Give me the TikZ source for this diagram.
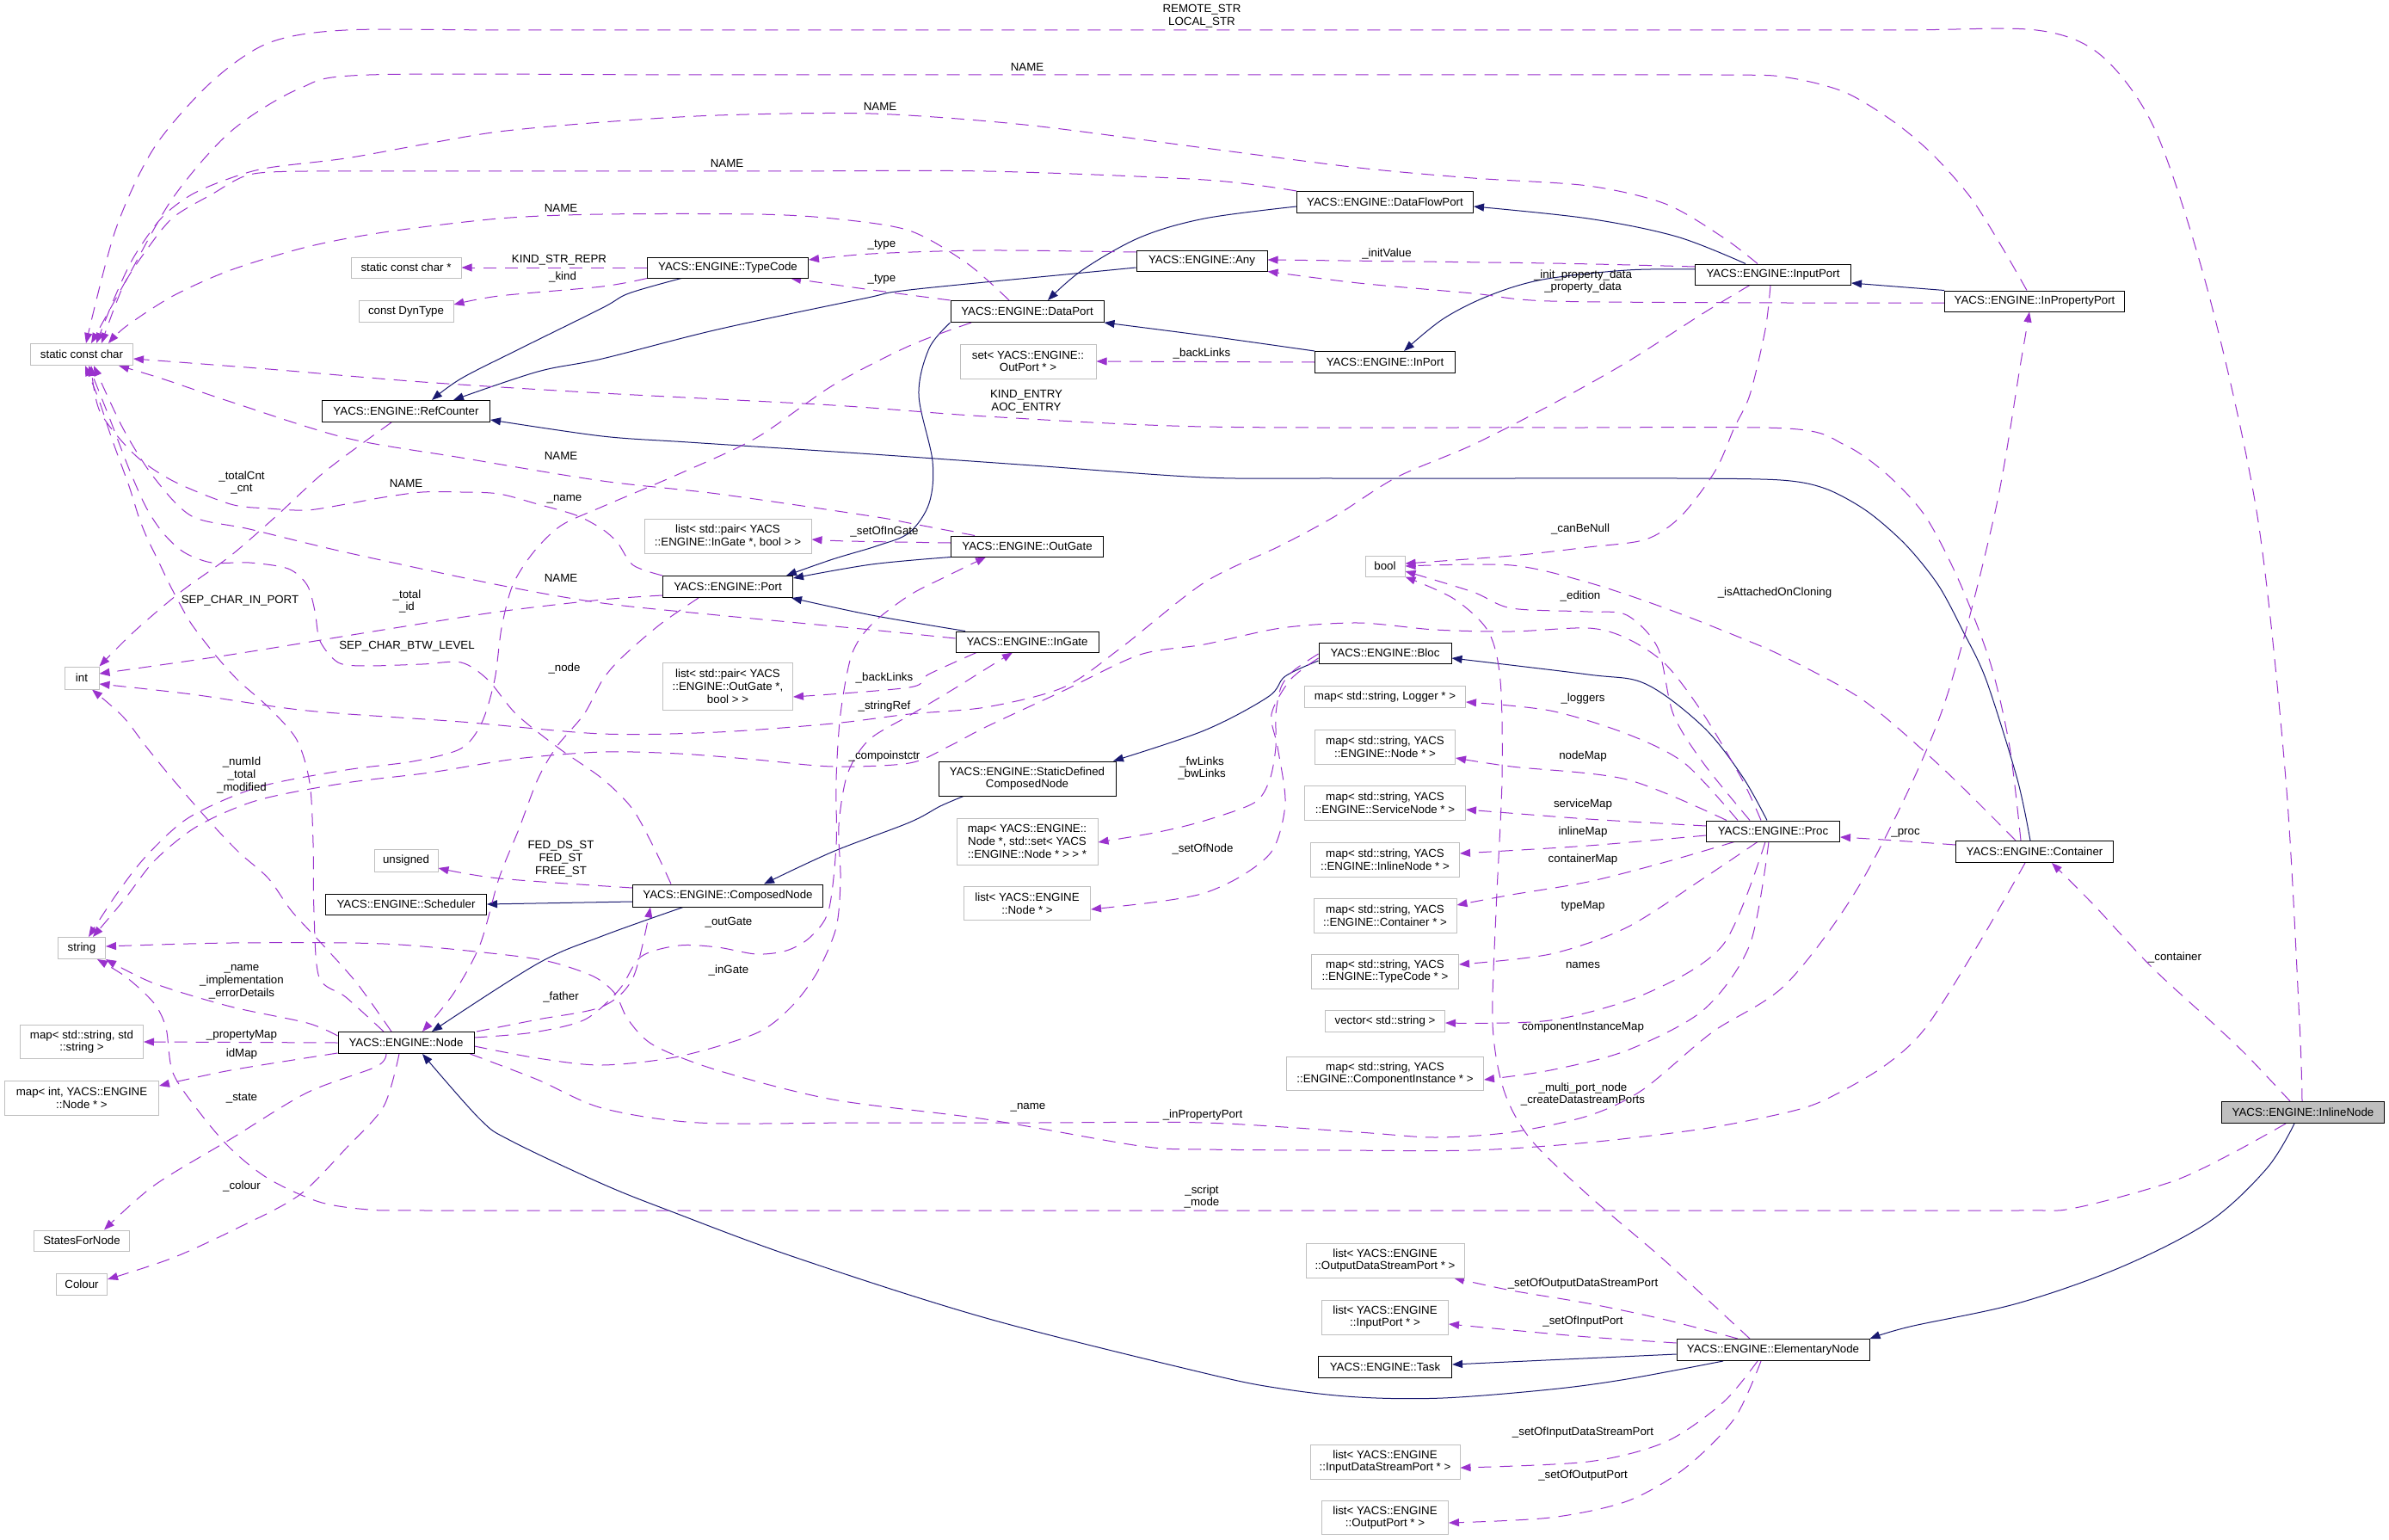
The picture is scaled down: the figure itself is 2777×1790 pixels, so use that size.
\documentclass[tikz,border=0pt]{standalone}
\usepackage{fontspec}
\setmainfont{Liberation Sans}
\usetikzlibrary{arrows.meta,backgrounds}
\definecolor{midblue}{RGB}{25,25,112}
\definecolor{orchid}{RGB}{154,50,205}
\definecolor{boxgray}{RGB}{191,191,191}
\newcommand\dgfont{\fontsize{13.3}{14.8}\selectfont}
\begin{document}
\begin{tikzpicture}[x=1pt,y=-1pt,
  cls/.style={draw=black, line width=1pt, fill=white, inner sep=0pt, align=center, font=\dgfont},
  ext/.style={draw=boxgray, line width=1pt, fill=white, inner sep=0pt, align=center, font=\dgfont},
  sz/.style 2 args={minimum width=#1pt, minimum height=#2pt},
  lab/.style={inner sep=0pt, align=center, font=\dgfont},
  inh/.style={draw=midblue, line width=1pt, -{Triangle[length=12pt,width=9pt]}},
  dep/.style={draw=orchid, line width=1pt, dash pattern=on 15pt off 10pt, -{Triangle[length=12pt,width=9pt]}}]
\useasboundingbox (0,0) rectangle (2777,1790);

% ---------------- nodes ----------------
\node[ext, sz={119}{25}] (scc) at (95,412) {static const char};
\node[ext, sz={128}{24}] (sccp) at (472,311) {static const char *};
\node[ext, sz={110}{25}] (dyn) at (472,362) {const DynType};
\node[cls, sz={195}{25}] (refc) at (472,478) {YACS::ENGINE::RefCounter};
\node[cls, sz={187}{24}] (typecode) at (846,311) {YACS::ENGINE::TypeCode};
\node[cls, sz={178}{25}] (dataport) at (1194,362) {YACS::ENGINE::DataPort};
\node[ext, sz={158}{40}] (setout) at (1195,420) {set< YACS::ENGINE::\\OutPort * >};
\node[cls, sz={152}{24}] (any) at (1397,303) {YACS::ENGINE::Any};
\node[cls, sz={205}{25}] (dfport) at (1610,235) {YACS::ENGINE::DataFlowPort};
\node[cls, sz={163}{25}] (inport) at (1610,421) {YACS::ENGINE::InPort};
\node[cls, sz={181}{24}] (inputport) at (2061,319) {YACS::ENGINE::InputPort};
\node[cls, sz={209}{24}] (inprop) at (2365,350) {YACS::ENGINE::InPropertyPort};
\node[ext, sz={40}{26}] (int) at (95,788) {int};
\node[ext, sz={74}{26}] (unsigned) at (472,1000) {unsigned};
\node[cls, sz={187}{24}] (sched) at (472,1051) {YACS::ENGINE::Scheduler};
\node[ext, sz={55}{25}] (string) at (95,1102) {string};
\node[ext, sz={194}{40}] (lpin) at (846,623) {list< std::pair< YACS\\::ENGINE::InGate *, bool > >};
\node[cls, sz={177}{24}] (outgate) at (1194,635) {YACS::ENGINE::OutGate};
\node[cls, sz={151}{25}] (port) at (846,682) {YACS::ENGINE::Port};
\node[cls, sz={166}{24}] (ingate) at (1194,746) {YACS::ENGINE::InGate};
\node[ext, sz={151}{55}] (lpout) at (846,798) {list< std::pair< YACS\\::ENGINE::OutGate *,\\bool > >};
\node[cls, sz={206}{40}] (sdcn) at (1194,905) {YACS::ENGINE::StaticDefined\\ComposedNode};
\node[ext, sz={164}{54}] (mapnodeset) at (1194,978) {map< YACS::ENGINE::\\Node *, std::set< YACS\\::ENGINE::Node * > > *};
\node[ext, sz={147}{39}] (listnode) at (1194,1050) {list< YACS::ENGINE\\::Node * >};
\node[cls, sz={221}{26}] (composed) at (846,1041) {YACS::ENGINE::ComposedNode};
\node[ext, sz={46}{24}] (bool) at (1610,658) {bool};
\node[cls, sz={154}{24}] (bloc) at (1610,759) {YACS::ENGINE::Bloc};
\node[ext, sz={187}{25}] (maplogger) at (1610,810) {map< std::string, Logger * >};
\node[ext, sz={163}{40}] (mapnode) at (1610,868) {map< std::string, YACS\\::ENGINE::Node * >};
\node[ext, sz={187}{40}] (mapservice) at (1610,933) {map< std::string, YACS\\::ENGINE::ServiceNode * >};
\node[ext, sz={173}{40}] (mapinline) at (1610,999) {map< std::string, YACS\\::ENGINE::InlineNode * >};
\node[ext, sz={166}{40}] (mapcontainer) at (1610,1064) {map< std::string, YACS\\::ENGINE::Container * >};
\node[ext, sz={171}{40}] (maptypecode) at (1610,1129) {map< std::string, YACS\\::ENGINE::TypeCode * >};
\node[ext, sz={139}{25}] (vecstring) at (1610,1187) {vector< std::string >};
\node[cls, sz={155}{24}] (proc) at (2061,966) {YACS::ENGINE::Proc};
\node[cls, sz={183}{25}] (container) at (2365,990) {YACS::ENGINE::Container};
\node[ext, sz={143}{39}] (mapss) at (95,1211) {map< std::string, std\\::string >};
\node[ext, sz={179}{40}] (mapint) at (95,1276) {map< int, YACS::ENGINE\\::Node * >};
\node[cls, sz={158}{25}] (node) at (472,1212) {YACS::ENGINE::Node};
\node[ext, sz={111}{24}] (states) at (95,1442) {StatesForNode};
\node[ext, sz={59}{25}] (colour) at (95,1493) {Colour};
\node[ext, sz={229}{39}] (mapcomp) at (1610,1248) {map< std::string, YACS\\::ENGINE::ComponentInstance * >};
\node[ext, sz={184}{40}] (lodsp) at (1610,1465) {list< YACS::ENGINE\\::OutputDataStreamPort * >};
\node[ext, sz={147}{40}] (linput) at (1610,1531) {list< YACS::ENGINE\\::InputPort * >};
\node[cls, sz={155}{25}] (task) at (1610,1589) {YACS::ENGINE::Task};
\node[cls, sz={224}{25}] (elem) at (2061,1569) {YACS::ENGINE::ElementaryNode};
\node[ext, sz={174}{40}] (lidsp) at (1610,1699) {list< YACS::ENGINE\\::InputDataStreamPort * >};
\node[ext, sz={147}{39}] (loutput) at (1610,1764) {list< YACS::ENGINE\\::OutputPort * >};
\node[cls, fill=boxgray, sz={189}{25}] (inline) at (2677,1293) {YACS::ENGINE::InlineNode};

% ---------------- edges ----------------
\begin{scope}[on background layer]
\fill[white] (0,0) rectangle (2777,1790);
% inheritance
\draw[inh] plot[smooth,tension=.55] coordinates {([xshift=-54pt]typecode.south) (731,341) (700,358) (603,406) (536,440) ([xshift=30pt]refc.north)};
\draw[inh] plot[smooth,tension=.55] coordinates {([yshift=-8pt]any.west) (1249,318) (1057,337) (1004,347) (834,383) (700,417) (625,432) ([xshift=55pt]refc.north)};
\draw[inh] plot[smooth,tension=.5] coordinates {([xshift=-5pt]container.north) (2345,906) (2309,791) (2282,734) (2253,680) (2215,633) (2170,594) (2122,568) (2070,558) (1950,556) (1750,556) (1550,556) (1400,555) (1200,541) (1000,527) (800,514) (700,507) ([yshift=-10pt]refc.east)};
\draw[inh] plot[smooth,tension=.55] coordinates {(dataport.south west) (1080,405) (1068,459) (1084,536) (1080,585) (1057,619) (1021,634) (968,650) ([xshift=-8pt]port.north east)};
\draw[inh] plot[smooth,tension=.55] coordinates {(outgate.south west) (1013,656) ([yshift=-3pt]port.north east)};
\draw[inh] plot[smooth,tension=.55] coordinates {([xshift=-72pt]ingate.north) (1013,715) ([xshift=-2pt]port.south east)};
\draw[inh] plot[smooth,tension=.55] coordinates {([yshift=-5pt]dfport.west) (1400,254) (1325,276) (1258,314) ([xshift=24pt]dataport.north)};
\draw[inh] plot[smooth,tension=.55] coordinates {(inport.north west) (1400,390) (dataport.south east)};
\draw[inh] plot[smooth,tension=.55] coordinates {([xshift=-32pt]inputport.north) (1949,275) (1846,254) ([yshift=-5pt]dfport.east)};
\draw[inh] plot[smooth,tension=.55] coordinates {([yshift=6pt]inputport.west) (1891,314) (1793,325) (1730,344) (1677,371) ([xshift=22pt]inport.north)};
\draw[inh] (inprop.north west) -- ([yshift=-10pt]inputport.east);
\draw[inh] plot[smooth,tension=.55] coordinates {([xshift=-74pt]sdcn.south) (1093,937) (1057,956) (968,990) ([xshift=42pt]composed.north)};
\draw[inh] plot[smooth,tension=.55] coordinates {([yshift=-9pt]bloc.west) (1494,786) (1474,810) (1400,849) ([xshift=100pt]sdcn.north)};
\draw[inh] plot[smooth,tension=.55] coordinates {([xshift=-7pt]proc.north) (2025,902) (1980,845) (1913,795) (1846,784) ([yshift=-6pt]bloc.east)};
\draw[inh] plot[smooth,tension=.55] coordinates {([xshift=-52pt]composed.south) (700,1088) (625,1120) ([xshift=30pt]node.north)};
\draw[inh] ([yshift=-7pt]composed.west) -- (sched.east);
\draw[inh] ([yshift=-5pt]elem.west) -- ([yshift=3pt]task.east);
\draw[inh] plot[smooth,tension=.55] coordinates {([xshift=-58pt]elem.south) (1891,1603) (1802,1615) (1677,1625) (1579,1624) (1489,1614) (1400,1596) (1146,1532) (923,1461) (780,1408) (700,1376) (594,1326) (558,1301) ([xshift=19pt]node.south)};
\draw[inh] plot[smooth,tension=.55] coordinates {([xshift=-10pt]inline.south) (2635,1358) (2568,1420) (2465,1473) (2345,1515) (2220,1542) (elem.north east)};

% usage: into static const char
\draw[dep] plot[smooth,tension=.5] coordinates {([xshift=-1pt]inline.north) (2673,1189) (2657,906) (2624,600) (2568,344) (2506,153) (2443,65) (2367,35) (2200,35) (1800,35) (1400,35) (1000,35) (600,35) (402,35) (312,50) (245,96) (179,172) (134,268) ([xshift=5pt]scc.north)};
\draw[dep] plot[smooth,tension=.5] coordinates {([xshift=-9pt]inprop.north) (2327,287) (2291,230) (2247,180) (2202,142) (2144,107) (2077,90) (2000,87) (1600,87) (1200,87) (800,87) (429,87) (348,103) (268,153) (201,230) (147,325) ([xshift=11pt]scc.north)};
\draw[dep] plot[smooth,tension=.5] coordinates {([xshift=-18pt]inputport.north) (2003,276) (1936,237) (1846,216) (1712,207) (1579,195) (1400,172) (1191,145) (1012,132) (834,134) (700,142) (580,153) (491,168) (402,184) (312,195) (268,207) (223,226) (188,253) (156,298) (134,344) ([xshift=17pt]scc.north)};
\draw[dep] plot[smooth,tension=.5] coordinates {(dfport.north west) (1400,209) (1146,199) (900,199) (700,199) (500,199) (357,199) (290,203) (246,226) (201,253) (170,291) (143,333) ([xshift=23pt]scc.north)};
\draw[dep] plot[smooth,tension=.5] coordinates {([xshift=-21pt]dataport.north) (1124,306) (1057,268) (968,254) (879,249) (700,249) (580,254) (446,270) (357,287) (268,314) (201,344) (147,379) ([xshift=31pt]scc.north)};
\draw[dep] plot[smooth,tension=.5] coordinates {([xshift=-16pt]container.north) (2336,868) (2314,772) (2278,677) (2238,600) (2193,551) (2144,517) (2077,498) (1800,497) (1400,496) (1146,484) (968,471) (700,457) (491,444) (312,429) ([yshift=-5pt]scc.east)};
\draw[dep] plot[smooth,tension=.5] coordinates {([xshift=-61pt]outgate.north) (1057,608) (1013,600) (834,574) (700,559) (536,532) (402,509) (268,467) (188,440) ([xshift=43pt]scc.south)};
\draw[dep] plot[smooth,tension=.5] coordinates {(port.north west) (736,657) (718,631) (700,615) (670,599) (625,586) (580,574) (536,572) (491,572) (446,578) (402,586) (357,593) (312,591) (268,586) (201,559) (156,528) (116,478) ([xshift=11pt]scc.south)};
\draw[dep] plot[smooth,tension=.5] coordinates {([yshift=4pt]ingate.west) (1012,732) (834,715) (700,701) (580,680) (402,642) (290,615) (223,600) (179,555) (143,498) ([xshift=14pt]scc.south)};
\draw[dep] plot[smooth,tension=.5] coordinates {([xshift=-26pt]node.north) (402,1159) (371,1136) (365,1060) (364,980) (360,910) (345,860) (312,822) (277,791) (250,761) (223,726) (208,700) (196,677) (183,650) (170,623) (161,600) (150,565) (130,510) (115,465) ([xshift=4pt]scc.south)};
\draw[dep] plot[smooth,tension=.5] coordinates {([xshift=-66pt]composed.north) (760,985) (735,940) (700,905) (650,870) (600,830) (567,790) (536,770) (491,772) (424,774) (393,770) (372,745) (366,710) (357,680) (335,661) (290,654) (246,654) (214,642) (190,620) (170,590) (150,545) (125,480) ([xshift=8pt]scc.south)};

% TypeCode / Any / ports
\draw[dep] (typecode.west) -- (sccp.east);
\draw[dep] plot[smooth,tension=.5] coordinates {(typecode.south west) (700,333) (580,344) ([yshift=8pt]dyn.east)};
\draw[dep] plot[smooth,tension=.5] coordinates {([yshift=10pt]any.west) (1146,291) (1013,295) ([yshift=9pt]typecode.east)};
\draw[dep] plot[smooth,tension=.5] coordinates {(dataport.north west) (1013,337) ([xshift=73pt]typecode.south)};
\draw[dep] plot[smooth,tension=.5] coordinates {([yshift=9pt]inputport.west) (1802,306) ([yshift=1pt]any.east)};
\draw[dep] plot[smooth,tension=.5] coordinates {([yshift=-2pt]inprop.west) (2077,352) (1802,350) (1712,341) (1579,329) (any.south east)};
\draw[dep] (inport.west) -- (setout.east);
\draw[dep] plot[smooth,tension=.5] coordinates {([yshift=4pt]outgate.west) (986,629) ([yshift=-4pt]lpin.east)};
\draw[dep] plot[smooth,tension=.5] coordinates {([xshift=-59pt]ingate.south) (1079,784) (1057,799) ([yshift=-12pt]lpout.east)};

% into int / string
\draw[dep] plot[smooth,tension=.5] coordinates {([yshift=-10pt]port.west) (700,697) (580,711) (446,732) (268,761) ([yshift=5pt]int.east)};
\draw[dep] plot[smooth,tension=.5] coordinates {([xshift=-17pt]refc.south) (379,547) (321,600) (268,646) (210,688) (156,734) (int.north east)};
\draw[dep] plot[smooth,tension=.5] coordinates {([xshift=-27pt]inputport.south) (1980,364) (1891,421) (1802,471) (1712,517) (1623,555) (1552,600) (1489,634) (1400,677) (1303,753) (1236,799) (1146,822) (1057,830) (968,841) (834,851) (700,853) (536,839) (357,826) (223,807) ([yshift=-7pt]int.east)};
\draw[dep] plot[smooth,tension=.5] coordinates {([xshift=-17pt]node.north) (415,1143) (375,1098) (339,1059) (312,1021) (277,990) (241,952) (201,906) (170,868) (143,833) ([xshift=12pt]int.south)};
\draw[dep] plot[smooth,tension=.5] coordinates {([xshift=-65pt]dataport.south) (1057,402) (968,448) (879,509) (789,551) (700,589) (652,611) (620,642) (596,680) (583,730) (575,790) (560,840) (536,870) (480,885) (402,895) (300,915) (220,950) (170,995) (135,1040) ([xshift=8pt]string.north)};
\draw[dep] plot[smooth,tension=.5] coordinates {([xshift=-14pt]proc.north) (2025,906) (1980,830) (1936,772) (1891,742) (1846,730) (1757,734) (1668,732) (1579,724) (1489,730) (1400,749) (1325,761) (1236,803) (1146,845) (1102,868) (1057,887) (968,891) (879,883) (789,876) (700,874) (600,882) (500,898) (402,910) (300,930) (230,960) (180,1000) (145,1045) ([xshift=13pt]string.north)};
\draw[dep] plot[smooth,tension=.5] coordinates {([yshift=8pt]node.west) (357,1189) (268,1170) (179,1143) (string.south east)};
\draw[dep] plot[smooth,tension=.5] coordinates {([xshift=-20pt]inline.south) (2590,1343) (2523,1374) (2412,1404) (2345,1407) (2000,1407) (1400,1407) (900,1407) (500,1407) (429,1406) (371,1397) (312,1370) (268,1335) (232,1293) (201,1247) (193,1195) (179,1166) (147,1136) ([xshift=18pt]string.south)};
\draw[dep] plot[smooth,tension=.5] coordinates {([xshift=-11pt]container.south) (2300,1097) (2238,1195) (2189,1240) (2122,1278) (2077,1293) (1980,1312) (1846,1328) (1712,1337) (1550,1337) (1400,1336) (1325,1332) (1146,1301) (968,1278) (834,1244) (760,1215) (730,1185) (715,1155) (690,1135) (640,1118) (580,1109) (446,1097) (268,1096) ([yshift=2pt]string.east)};

% Node members
\draw[dep] plot[smooth,tension=.5] coordinates {([xshift=-5pt]node.south east) (625,1255) (700,1288) (812,1305) (1000,1305) (1200,1305) (1400,1305) (1579,1316) (1668,1322) (1757,1316) (1846,1297) (1909,1267) (1990,1200) (2077,1143) (2166,1021) (2256,830) (2318,600) (2349,421) ([xshift=-6pt]inprop.south)};
\draw[dep] plot[smooth,tension=.5] coordinates {([xshift=82pt]node.north) (625,1185) (700,1170) (736,1136) ([xshift=-90pt]composed.south)};
\draw[dep] plot[smooth,tension=.5] coordinates {([yshift=6pt]node.east) (620,1200) (680,1185) (720,1150) (745,1112) (789,1099) (834,1101) (879,1109) (914,1105) (941,1090) (963,1059) (972,983) (972,906) (977,830) (990,761) (1013,726) (1057,692) (1102,669) ([xshift=-48pt]outgate.south)};
\draw[dep] plot[smooth,tension=.5] coordinates {([yshift=-4pt]node.east) (625,1230) (700,1238) (789,1228) (879,1201) (920,1170) (950,1130) (972,1078) (977,1021) (975,960) (985,900) (1010,860) (1060,830) (1110,800) (1150,775) ([xshift=-17pt]ingate.south)};
\draw[dep] plot[smooth,tension=.5] coordinates {([xshift=-34pt]port.south) (767,726) (722,765) (700,791) (679,830) (647,868) (625,906) (603,964) (580,1021) (558,1098) (527,1155) ([xshift=19pt]node.north)};
\draw[dep] plot[smooth,tension=.5] coordinates {([yshift=9pt]composed.west) (580,1021) ([yshift=-9pt]unsigned.east)};
\draw[dep] (node.west) -- (mapss.east);
\draw[dep] plot[smooth,tension=.5] coordinates {([yshift=-12pt]node.west) (268,1244) ([yshift=14pt]mapint.east)};
\draw[dep] plot[smooth,tension=.5] coordinates {([xshift=-23pt]node.south) (437,1240) (357,1270) (268,1324) (179,1378) ([xshift=26pt]states.north)};
\draw[dep] plot[smooth,tension=.5] coordinates {([xshift=-8pt]node.south) (446,1286) (402,1335) (348,1389) (277,1427) (201,1462) ([yshift=6pt]colour.east)};

% Bloc / Proc
\draw[dep] plot[smooth,tension=.5] coordinates {([yshift=-1pt]bloc.west) (1503,780) (1489,799) (1483,830) (1483,868) (1476,906) (1458,933) (1400,954) (1347,967) ([yshift=-1pt]mapnodeset.east)};
\draw[dep] plot[smooth,tension=.5] coordinates {([yshift=-6pt]bloc.west) (1500,790) (1478,830) (1485,868) (1494,933) (1480,987) (1445,1017) (1400,1038) (1347,1048) ([yshift=-7pt]listnode.east)};
\draw[dep] plot[smooth,tension=.5] coordinates {([xshift=-41pt]proc.north) (1958,887) (1891,853) (1802,826) ([yshift=-6pt]maplogger.east)};
\draw[dep] plot[smooth,tension=.5] coordinates {([xshift=-54pt]proc.north) (1891,906) (1757,891) ([yshift=-13pt]mapnode.east)};
\draw[dep] plot[smooth,tension=.5] coordinates {([yshift=6pt]proc.west) (1846,952) ([yshift=-8pt]mapservice.east)};
\draw[dep] plot[smooth,tension=.5] coordinates {([yshift=-5pt]proc.west) (1846,983) ([yshift=7pt]mapinline.east)};
\draw[dep] plot[smooth,tension=.5] coordinates {([xshift=-45pt]proc.south) (1936,1002) (1846,1025) (1757,1040) ([yshift=12pt]mapcontainer.east)};
\draw[dep] plot[smooth,tension=.5] coordinates {([xshift=-18pt]proc.south) (1980,1021) (1891,1078) (1802,1109) ([yshift=8pt]maptypecode.east)};
\draw[dep] plot[smooth,tension=.5] coordinates {([xshift=-9pt]proc.south) (2003,1098) (1913,1155) (1802,1186) ([yshift=-2pt]vecstring.east)};
\draw[dep] plot[smooth,tension=.5] coordinates {([xshift=-5pt]proc.south) (2034,1098) (1980,1174) (1891,1221) (1802,1244) ([yshift=-7pt]mapcomp.east)};
\draw[dep] plot[smooth,tension=.5] coordinates {([xshift=-27pt]proc.north) (1980,887) (1945,830) (1927,753) (1891,715) (1846,711) (1757,707) (1712,688) ([yshift=-6pt]bool.east)};
\draw[dep] plot[smooth,tension=.5] coordinates {([xshift=-3pt]inputport.south) (2052,383) (2034,459) (2016,497) (1994,547) (1954,600) (1913,627) (1846,636) (1757,646) ([yshift=3pt]bool.east)};
\draw[dep] plot[smooth,tension=.5] coordinates {([xshift=-22pt]container.north) (2256,891) (2166,814) (2077,765) (2025,742) (1936,707) (1846,677) (1757,657) (bool.east)};
\draw[dep] plot[smooth,tension=.5] coordinates {([xshift=-27pt]elem.north) (1936,1466) (1846,1389) (1779,1324) (1748,1267) (1735,1190) (1739,1059) (1746,906) (1744,791) (1730,734) (1690,696) (bool.south east)};
\draw[dep] plot[smooth,tension=.5] coordinates {([yshift=8pt]container.west) (2189,976) ([yshift=-7pt]proc.east)};
\draw[dep] plot[smooth,tension=.5] coordinates {([xshift=-15pt]inline.north) (2613,1228) (2573,1190) (2501,1124) (2434,1052) ([xshift=20pt]container.south)};

% ElementaryNode members
\draw[dep] plot[smooth,tension=.5] coordinates {([xshift=-41pt]elem.north) (1936,1534) (1846,1515) (1757,1500) ([xshift=80pt]lodsp.south)};
\draw[dep] plot[smooth,tension=.5] coordinates {([yshift=8pt]elem.west) (1846,1554) (1757,1546) ([yshift=-8pt]linput.east)};
\draw[dep] plot[smooth,tension=.5] coordinates {([xshift=-18pt]elem.south) (2003,1630) (1936,1676) (1846,1699) ([yshift=-7pt]lidsp.east)};
\draw[dep] plot[smooth,tension=.5] coordinates {([xshift=-14pt]elem.south) (2016,1649) (1958,1707) (1891,1745) (1802,1764) ([yshift=-6pt]loutput.east)};
\end{scope}

% ---------------- labels ----------------
\node[lab] (l1) at (1397,19) {REMOTE\_STR\\LOCAL\_STR};
\node[lab] (l2) at (1194,78) {NAME};
\node[lab] (l3) at (1023,124) {NAME};
\node[lab] (l4) at (845,190) {NAME};
\node[lab] (l5) at (652,242) {NAME};
\node[lab] (l6) at (650,302) {KIND\_STR\_REPR};
\node[lab] (l7) at (654,322) {\_kind};
\node[lab] (l8) at (1025,285) {\_type};
\node[lab] (l9) at (1025,325) {\_type};
\node[lab] (l10) at (1612,295) {\_initValue};
\node[lab] (l11) at (1840,327) {\_init\_property\_data\\\_property\_data};
\node[lab] (l12) at (1397,411) {\_backLinks};
\node[lab] (l13) at (1193,467) {KIND\_ENTRY\\AOC\_ENTRY};
\node[lab] (l14) at (652,530) {NAME};
\node[lab] (l15) at (472,562) {NAME};
\node[lab] (l16) at (281,561) {\_totalCnt\\\_cnt};
\node[lab] (l17) at (656,580) {\_name};
\node[lab] (l18) at (1028,618) {\_setOfInGate};
\node[lab] (l19) at (1837,615) {\_canBeNull};
\node[lab] (l20) at (652,672) {NAME};
\node[lab] (l21) at (279,698) {SEP\_CHAR\_IN\_PORT};
\node[lab] (l22) at (473,699) {\_total\\\_id};
\node[lab] (l23) at (2063,689) {\_isAttachedOnCloning};
\node[lab] (l24) at (1837,693) {\_edition};
\node[lab] (l25) at (473,751) {SEP\_CHAR\_BTW\_LEVEL};
\node[lab] (l26) at (656,777) {\_node};
\node[lab] (l27) at (1028,788) {\_backLinks};
\node[lab] (l28) at (1840,812) {\_loggers};
\node[lab] (l29) at (1028,821) {\_stringRef};
\node[lab] (l30) at (1028,879) {\_compoinstctr};
\node[lab] (l31) at (1840,879) {nodeMap};
\node[lab] (l32) at (1397,893) {\_fwLinks\\\_bwLinks};
\node[lab] (l33) at (281,901) {\_numId\\\_total\\\_modified};
\node[lab] (l34) at (1840,935) {serviceMap};
\node[lab] (l35) at (1840,967) {inlineMap};
\node[lab] (l36) at (2215,968) {\_proc};
\node[lab] (l37) at (1398,987) {\_setOfNode};
\node[lab] (l38) at (652,998) {FED\_DS\_ST\\FED\_ST\\FREE\_ST};
\node[lab] (l39) at (1840,999) {containerMap};
\node[lab] (l40) at (1840,1053) {typeMap};
\node[lab] (l41) at (847,1072) {\_outGate};
\node[lab] (l42) at (2528,1113) {\_container};
\node[lab] (l43) at (1840,1122) {names};
\node[lab] (l44) at (847,1128) {\_inGate};
\node[lab] (l45) at (281,1141) {\_name\\\_implementation\\\_errorDetails};
\node[lab] (l46) at (652,1159) {\_father};
\node[lab] (l47) at (1840,1194) {componentInstanceMap};
\node[lab] (l48) at (281,1203) {\_propertyMap};
\node[lab] (l49) at (281,1225) {idMap};
\node[lab] (l50) at (1840,1272) {\_multi\_port\_node\\\_createDatastreamPorts};
\node[lab] (l51) at (1195,1287) {\_name};
\node[lab] (l52) at (1398,1296) {\_inPropertyPort};
\node[lab] (l53) at (281,1277) {\_state};
\node[lab] (l54) at (281,1379) {\_colour};
\node[lab] (l55) at (1397,1391) {\_script\\\_mode};
\node[lab] (l56) at (1840,1492) {\_setOfOutputDataStreamPort};
\node[lab] (l57) at (1840,1536) {\_setOfInputPort};
\node[lab] (l58) at (1840,1665) {\_setOfInputDataStreamPort};
\node[lab] (l59) at (1840,1715) {\_setOfOutputPort};
\end{tikzpicture}
\end{document}
